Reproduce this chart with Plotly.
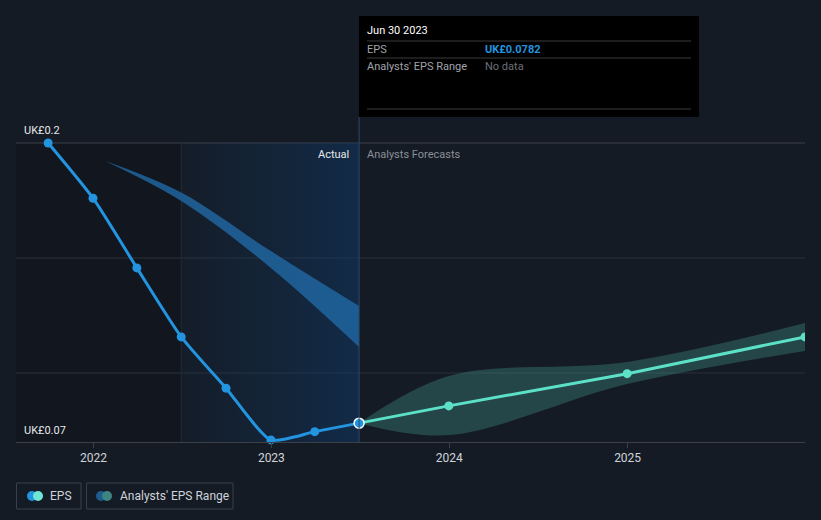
import plotly.graph_objects as go

# ---- data ----
eps_dates = ['2021-09-30', '2021-12-31', '2022-03-31', '2022-06-30', '2022-09-30',
             '2022-12-31', '2023-03-31', '2023-06-30']
eps_values = [0.200, 0.176, 0.1457, 0.1157, 0.0934, 0.0709, 0.0745, 0.0782]

forecast_dates = ['2023-06-30', '2023-12-31', '2024-12-31', '2025-12-31']
forecast_values = [0.0782, 0.0857, 0.0997, 0.1157]
forecast_high = [0.0782, 0.0987, 0.1048, 0.1217]
forecast_low = [0.0782, 0.0730, 0.0952, 0.1096]

past_range_dates = ['2022-01-25', '2022-06-30', '2022-12-31', '2023-06-30']
past_range_high = [0.1922, 0.1785, 0.1530, 0.1291]
past_range_low = [0.1922, 0.1748, 0.1457, 0.1113]

x_ticks = ['2022-01-01', '2023-01-01', '2024-01-01', '2025-01-01']
x_tick_labels = ['2022', '2023', '2024', '2025']
y_grid = [0.1, 0.15, 0.2]
x_start, x_end = '2021-07-26', '2025-12-31'

# ---- geometry helpers ----
W, H = 821, 520
L, R, T, B = 16, 16, 16, 78
PW, PH = W - L - R, H - T - B


def px(x):
    return (x - L) / PW


def py(y):
    return (H - B - y) / PH


BG = '#151b24'
BLUE = '#2394df'
TEAL = '#5ce0c8'

fig = go.Figure()

# highlight gradient region (last year of actuals)
fig.add_trace(go.Scatter(
    x=['2022-06-30', '2023-06-30', '2023-06-30', '2022-06-30', '2022-06-30'],
    y=[0.07, 0.07, 0.2, 0.2, 0.07],
    mode='lines', line=dict(width=0), fill='toself',
    fillgradient=dict(type='horizontal',
                      colorscale=[[0, 'rgba(15,60,110,0.06)'], [0.6, 'rgba(15,60,110,0.3)'],
                                  [1, 'rgba(15,60,110,0.48)']]),
    hoverinfo='skip', showlegend=False))

# past analyst range band
fig.add_trace(go.Scatter(x=past_range_dates, y=past_range_high, mode='lines',
                         line=dict(width=0, shape='spline'), hoverinfo='skip',
                         showlegend=False))
fig.add_trace(go.Scatter(x=past_range_dates, y=past_range_low, mode='lines',
                         line=dict(width=0, shape='spline'), fill='tonexty',
                         fillcolor='rgba(33,105,165,0.8)', hoverinfo='skip',
                         showlegend=False))

# forecast range band
fig.add_trace(go.Scatter(x=forecast_dates, y=forecast_high, mode='lines',
                         line=dict(width=0, shape='spline'), hoverinfo='skip',
                         showlegend=False))
fig.add_trace(go.Scatter(x=forecast_dates, y=forecast_low, mode='lines',
                         line=dict(width=0, shape='spline'), fill='tonexty',
                         fillcolor='rgba(92,224,200,0.22)', hoverinfo='skip',
                         showlegend=False))

# EPS actual
fig.add_trace(go.Scatter(x=eps_dates, y=eps_values, mode='lines+markers',
                         line=dict(color=BLUE, width=3, shape='spline', smoothing=0.6),
                         marker=dict(size=9, color=BLUE),
                         cliponaxis=False, showlegend=False))

# forecast line
fig.add_trace(go.Scatter(x=forecast_dates, y=forecast_values, mode='lines+markers',
                         line=dict(color=TEAL, width=3),
                         marker=dict(size=9, color=TEAL),
                         showlegend=False))

# last actual point highlighted
fig.add_trace(go.Scatter(x=[eps_dates[-1]], y=[eps_values[-1]], mode='markers',
                         marker=dict(size=10, color=BLUE, line=dict(color='white', width=1.5)),
                         cliponaxis=False, showlegend=False))

shapes = []
# darker left region
shapes.append(dict(type='rect', xref='x', yref='y', x0=x_start, x1='2022-06-30',
                   y0=0.07, y1=0.2, fillcolor='#12161e', line=dict(width=0), layer='below'))
# gridlines
for g in y_grid:
    shapes.append(dict(type='line', xref='x', yref='y', x0=x_start, x1=x_end, y0=g, y1=g,
                       line=dict(color='#3a3f48' if g == 0.2 else '#2b313a', width=1),
                       layer='below'))
# vertical separator lines
shapes.append(dict(type='line', xref='x', yref='y', x0='2022-06-30', x1='2022-06-30',
                   y0=0.07, y1=0.2, line=dict(color='#1f2c3b', width=1), layer='below'))
shapes.append(dict(type='line', xref='x', yref='paper', x0='2023-06-30', x1='2023-06-30',
                   y0=0, y1=py(117), line=dict(color='#2c4a66', width=1)))

# tooltip box
shapes.append(dict(type='rect', xref='paper', yref='paper', x0=px(359), x1=px(699),
                   y0=py(117), y1=py(16), fillcolor='#000000', line=dict(width=0)))
for yy in (41, 58, 109):
    shapes.append(dict(type='line', xref='paper', yref='paper', x0=px(367), x1=px(691),
                       y0=py(yy), y1=py(yy), line=dict(color='#3a3a3a', width=1)))

# legend boxes
shapes.append(dict(type='rect', xref='paper', yref='paper', x0=px(16.5), x1=px(81),
                   y0=py(509), y1=py(483), line=dict(color='#3a404a', width=1),
                   fillcolor='rgba(0,0,0,0)'))
shapes.append(dict(type='rect', xref='paper', yref='paper', x0=px(86.5), x1=px(233),
                   y0=py(509), y1=py(483), line=dict(color='#3a404a', width=1),
                   fillcolor='rgba(0,0,0,0)'))
# legend icons
for cx, col in ((32, BLUE), (38, '#6ee8d5'), (101, '#1f5b8c'), (107, '#3d8580')):
    shapes.append(dict(type='circle', xref='paper', yref='paper',
                       xsizemode='pixel', ysizemode='pixel',
                       xanchor=px(cx), yanchor=py(496),
                       x0=-5, x1=5, y0=-5, y1=5,
                       fillcolor=col, line=dict(width=0)))

FONT = 'Roboto, Arial, sans-serif'


def ann(text, x, y, color, size=11, xanchor='left', weight=None):
    d = dict(text=text, xref='paper', yref='paper', x=px(x), y=py(y),
             xanchor=xanchor, yanchor='middle', showarrow=False,
             font=dict(family=FONT, size=size, color=color))
    if weight:
        d['font']['weight'] = weight
    return d


annotations = [
    ann('UK£0.2', 22, 130, '#e6e8eb', 11),
    ann('UK£0.07', 22, 430, '#e6e8eb', 11),
    ann('Actual', 351, 154, '#e6e8eb', 11, xanchor='right'),
    ann('Analysts Forecasts', 365, 154, '#8a9099', 11),
    ann('Jun 30 2023', 365, 31, '#ffffff', 11),
    ann('EPS', 365, 49, '#a0a4ab', 11),
    ann('UK£0.0782', 483, 49, BLUE, 11, weight='bold'),
    ann("Analysts' EPS Range", 365, 66, '#a0a4ab', 11),
    ann('No data', 483, 66, '#6b7079', 11),
    ann('EPS', 48, 496, '#cfd3da', 12),
    ann("Analysts' EPS Range", 118, 496, '#cfd3da', 12),
]

fig.update_layout(
    width=W, height=H,
    margin=dict(l=L, r=R, t=T, b=B),
    paper_bgcolor=BG, plot_bgcolor=BG,
    font=dict(family=FONT, color='#d0d4da'),
    showlegend=False,
    shapes=shapes,
    annotations=annotations,
    hovermode=False,
    xaxis=dict(type='date', range=[x_start, x_end],
               tickvals=x_ticks, ticktext=x_tick_labels,
               showgrid=False, zeroline=False,
               showline=True, linecolor='#3a3f48', linewidth=1,
               ticks='outside', ticklen=5, tickcolor='#3a3f48',
               tickfont=dict(family=FONT, size=12, color='#d0d4da')),
    yaxis=dict(range=[0.07, 0.07 + PH / 2300.0], showgrid=False, zeroline=False,
               showticklabels=False, showline=False, fixedrange=True),
)

fig.write_html('out.html', config={'displayModeBar': False},
               post_script="document.body.style.margin='0px';")
